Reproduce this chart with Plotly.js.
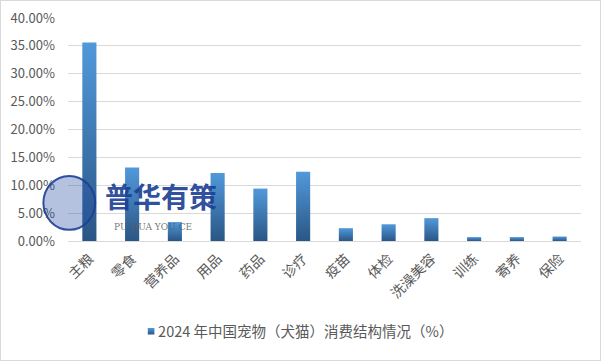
<!DOCTYPE html>
<html>
<head>
<meta charset="utf-8">
<script src="https://cdn.plot.ly/plotly-3.0.1.min.js"></script>
<style>
html,body{margin:0;padding:0;background:#fff;}
#wrap{width:601px;height:361px;box-sizing:border-box;border:1px solid #d9d9d9;overflow:hidden;}
#chart{width:599px;height:359px;}
</style>
</head>
<body>
<div id="wrap"><div id="chart"></div></div>
<script>
const categories = ['主粮','零食','营养品','用品','药品','诊疗','疫苗','体检','洗澡美容','训练','寄养','保险'];
const values = [0.356, 0.132, 0.034, 0.122, 0.094, 0.124, 0.023, 0.030, 0.041, 0.007, 0.007, 0.008];
const seriesName = '2024 年中国宠物（犬猫）消费结构情况（%）';

const font = '"Noto Sans CJK SC", "Noto Sans", sans-serif';

const trace = {
  type: 'bar',
  x: categories,
  y: values,
  name: seriesName,
  marker: {color: '#3d79b8', line: {width: 0}},
  showlegend: true,
  hoverinfo: 'none'
};

const layout = {
  width: 599, height: 359,
  margin: {l: 67, r: 19, t: 17, b: 114},
  paper_bgcolor: '#ffffff',
  plot_bgcolor: '#ffffff',
  font: {family: font, size: 13, color: '#595959'},
  bargap: 0.67,
  xaxis: {
    type: 'category',
    automargin: false,
    tickangle: -45,
    showgrid: false,
    showline: true,
    linecolor: '#d9d9d9',
    linewidth: 1,
    ticks: '',
    ticklabelstandoff: 3,
    tickfont: {family: font, size: 14, color: '#595959'},
    fixedrange: true
  },
  yaxis: {
    automargin: false,
    range: [0, 0.4],
    dtick: 0.05,
    tickformat: '.2%',
    showgrid: true,
    gridcolor: '#d9d9d9',
    gridwidth: 1,
    zeroline: false,
    showline: false,
    ticks: '',
    ticklabelstandoff: 12,
    tickfont: {family: font, size: 13, color: '#595959'},
    fixedrange: true
  },
  showlegend: true,
  legend: {
    orientation: 'h',
    x: 0.43, xanchor: 'center',
    y: -0.405, yanchor: 'middle',
    font: {family: font, size: 14.5, color: '#595959'},
    itemwidth: 30
  },
  annotations: [
    {text: '<b>普华有策</b>', xref: 'paper', yref: 'paper', x: 0.181, y: 0.2,
     xanchor: 'center', yanchor: 'middle',
     showarrow: false, font: {family: font, size: 28, color: 'rgba(28,63,148,0.92)'}},
    {text: 'PU HUA YOU CE', xref: 'paper', yref: 'paper', x: 0.166, y: 0.062,
     xanchor: 'center', yanchor: 'middle',
     showarrow: false, font: {family: '"DejaVu Serif", serif', size: 9, color: 'rgba(90,90,90,0.85)'}}
  ],
  shapes: [
    {type: 'circle', xref: 'paper', yref: 'paper', x0: -0.048, x1: 0.053, y0: 0.05, y1: 0.292,
     line: {color: 'rgba(28,63,148,0.9)', width: 2}, fillcolor: 'rgba(40,80,165,0.35)'}
  ]
};

Plotly.newPlot('chart', [trace], layout, {displayModeBar: false, staticPlot: true}).then(function(gd){
  const svg = gd.querySelector('svg.main-svg');
  const ns = 'http://www.w3.org/2000/svg';
  let defs = svg.querySelector('defs');
  if (!defs) { defs = document.createElementNS(ns, 'defs'); svg.insertBefore(defs, svg.firstChild); }
  const g = document.createElementNS(ns, 'linearGradient');
  g.setAttribute('id', 'barGrad');
  g.setAttribute('x1', '0'); g.setAttribute('y1', '0');
  g.setAttribute('x2', '0'); g.setAttribute('y2', '1');
  [['0%', '#5199db'], ['100%', '#2a5685']].forEach(function(s){
    const st = document.createElementNS(ns, 'stop');
    st.setAttribute('offset', s[0]);
    st.setAttribute('stop-color', s[1]);
    g.appendChild(st);
  });
  defs.appendChild(g);
  gd.querySelectorAll('.trace.bars .point path, .legendpoints path').forEach(function(p){
    p.style.fill = 'url(#barGrad)';
  });
  // tighten legend symbol next to its text, like the reference
  gd.querySelectorAll('.legendpoints').forEach(function(lp){
    lp.setAttribute('transform', 'translate(22,0) scale(0.55)');
  });
});
</script>
</body>
</html>
